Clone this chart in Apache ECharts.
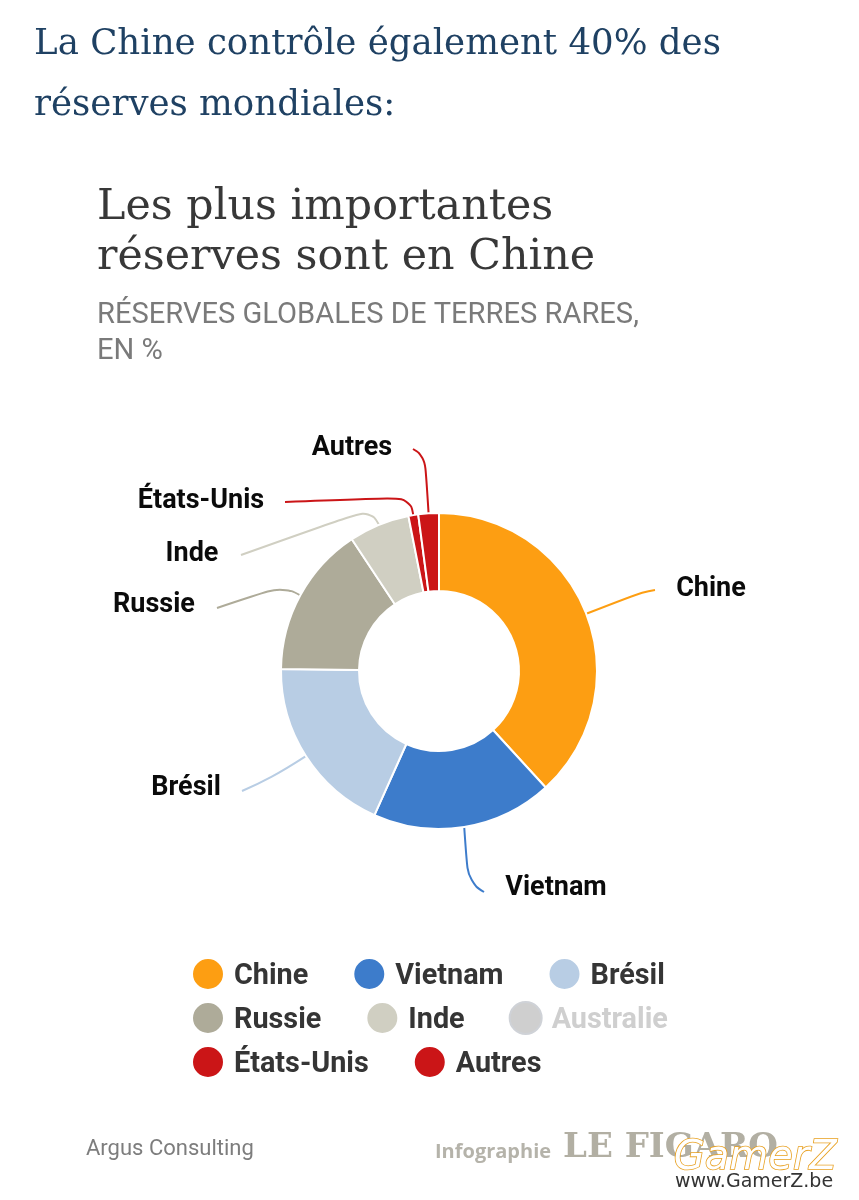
<!DOCTYPE html>
<html>
<head>
<meta charset="utf-8">
<style>
  html, body { margin: 0; padding: 0; background: #fff; }
  #chart { width: 859px; height: 1200px; }
</style>
<script src="https://cdn.jsdelivr.net/npm/echarts@6/dist/echarts.min.js"></script>
</head>
<body>
<div id="chart"></div>
<script>
const categories = ['Chine', 'Vietnam', 'Brésil', 'Russie', 'Inde', 'Australie', 'États-Unis', 'Autres'];
const shares = [38.2, 18.5, 18.5, 15.5, 6.2, 0, 1.0, 2.1];
const legendRows = [['Chine', 'Vietnam', 'Brésil'], ['Russie', 'Inde', 'Australie'], ['États-Unis', 'Autres']];
const palette = ['#fd9e12', '#3d7ccb', '#b8cde4', '#aeab99', '#d0cfc2', '#c9c9c9', '#cb1517', '#cb1517'];

// label centre, then elbow and end of its leader line (page pixels)
const labelSpots = {
  'Chine': { at: [711, 589], elbow: [642, 592], end: [655, 590] },
  'Vietnam': { at: [556, 888], elbow: [468, 882], end: [484, 892] },
  'Brésil': { at: [186, 788], elbow: [272, 778], end: [242, 791] },
  'Russie': { at: [154, 605], elbow: [283, 586], end: [217, 608] },
  'Inde': { at: [192, 554], elbow: [370, 509], end: [241, 555] },
  'États-Unis': { at: [201, 501], elbow: [410, 497], end: [285, 502] },
  'Autres': { at: [352, 448], elbow: [425, 456], end: [413, 449] }
};

const chart = echarts.init(document.getElementById('chart'));

const serif = 'DejaVu Serif';
const sans = 'Roboto';

chart.setOption({
  backgroundColor: '#fff',
  animation: false,
  title: [
    {
      text: 'La Chine contrôle également 40% des\nréserves mondiales:',
      left: 29, top: 9,
      textStyle: { fontFamily: serif, fontSize: 35.6, fontWeight: 'normal', color: '#1f4163', lineHeight: 61 }
    },
    {
      text: 'Les plus importantes\nréserves sont en Chine',
      left: 92, top: 178,
      textStyle: { fontFamily: serif, fontSize: 42.8, fontWeight: 'normal', color: '#383838', lineHeight: 50 }
    },
    {
      text: 'RÉSERVES GLOBALES DE TERRES RARES,\nEN %',
      left: 92, top: 293,
      textStyle: { fontFamily: sans, fontSize: 29.1, fontWeight: 'normal', color: '#7a7a7a', lineHeight: 36 }
    },
    {
      text: 'Argus Consulting',
      left: 81, top: 1133,
      textStyle: { fontFamily: sans, fontSize: 22, fontWeight: 'normal', color: '#7d7d7d' }
    }
  ],
  legend: legendRows.map((row, i) => ({
    data: row,
    left: 186,
    top: 952 + i * 44,
    orient: 'horizontal',
    icon: 'circle',
    itemWidth: 32,
    itemHeight: 32,
    itemGap: 44,
    selected: { 'Australie': false },
    inactiveColor: '#cfcfcf',
    formatter: '{t|{name}}',
    textStyle: {
      fontFamily: sans,
      fontSize: 28.8,
      fontWeight: 'bold',
      color: '#353535',
      rich: { t: { fontFamily: sans, fontSize: 28.8, fontWeight: 'bold', padding: [6, 0, 0, 5] } }
    }
  })),
  series: [
    {
      type: 'pie',
      center: [439, 671],
      radius: [80, 158],
      startAngle: 90,
      clockwise: true,
      color: palette,
      itemStyle: { borderColor: '#fff', borderWidth: 2 },
      emphasis: { disabled: true },
      data: categories.map((name, i) => ({ name: name, value: shares[i] })),
      label: {
        show: true,
        position: 'outside',
        formatter: '{b}',
        fontFamily: sans,
        fontSize: 27,
        fontWeight: 'bold',
        color: '#0b0b0b'
      },
      labelLine: { show: true, smooth: 0.5, lineStyle: { width: 2 } },
      labelLayout: function (params) {
        const spot = labelSpots[params.text];
        if (!spot) return {};
        const start = params.labelLinePoints ? params.labelLinePoints[0] : spot.elbow;
        return {
          x: spot.at[0],
          y: spot.at[1],
          align: 'center',
          verticalAlign: 'middle',
          labelLinePoints: [start, spot.elbow, spot.end]
        };
      }
    }
  ],
  graphic: [
    { type: 'text', left: 435, top: 1142, style: { text: 'Infographie', fontFamily: 'Open Sans', fontSize: 20, fontWeight: 'bold', fill: '#b5b3aa' } },
    { type: 'text', left: 563, top: 1131, style: { text: 'LE FIGARO', fontFamily: serif, fontSize: 34, fontWeight: 'bold', fill: '#b2afa3' } },
    { type: 'text', left: 673, top: 1138, z: 10, style: { text: 'GamerZ', fontFamily: 'DejaVu Sans', fontStyle: 'italic', fontSize: 40, fill: '#fff', stroke: '#e8a020', lineWidth: 1.6 } },
    { type: 'text', left: 675, top: 1173, z: 10, style: { text: 'www.GamerZ.be', fontFamily: 'DejaVu Sans', fontSize: 19, fill: '#333' } }
  ]
});
</script>
</body>
</html>
